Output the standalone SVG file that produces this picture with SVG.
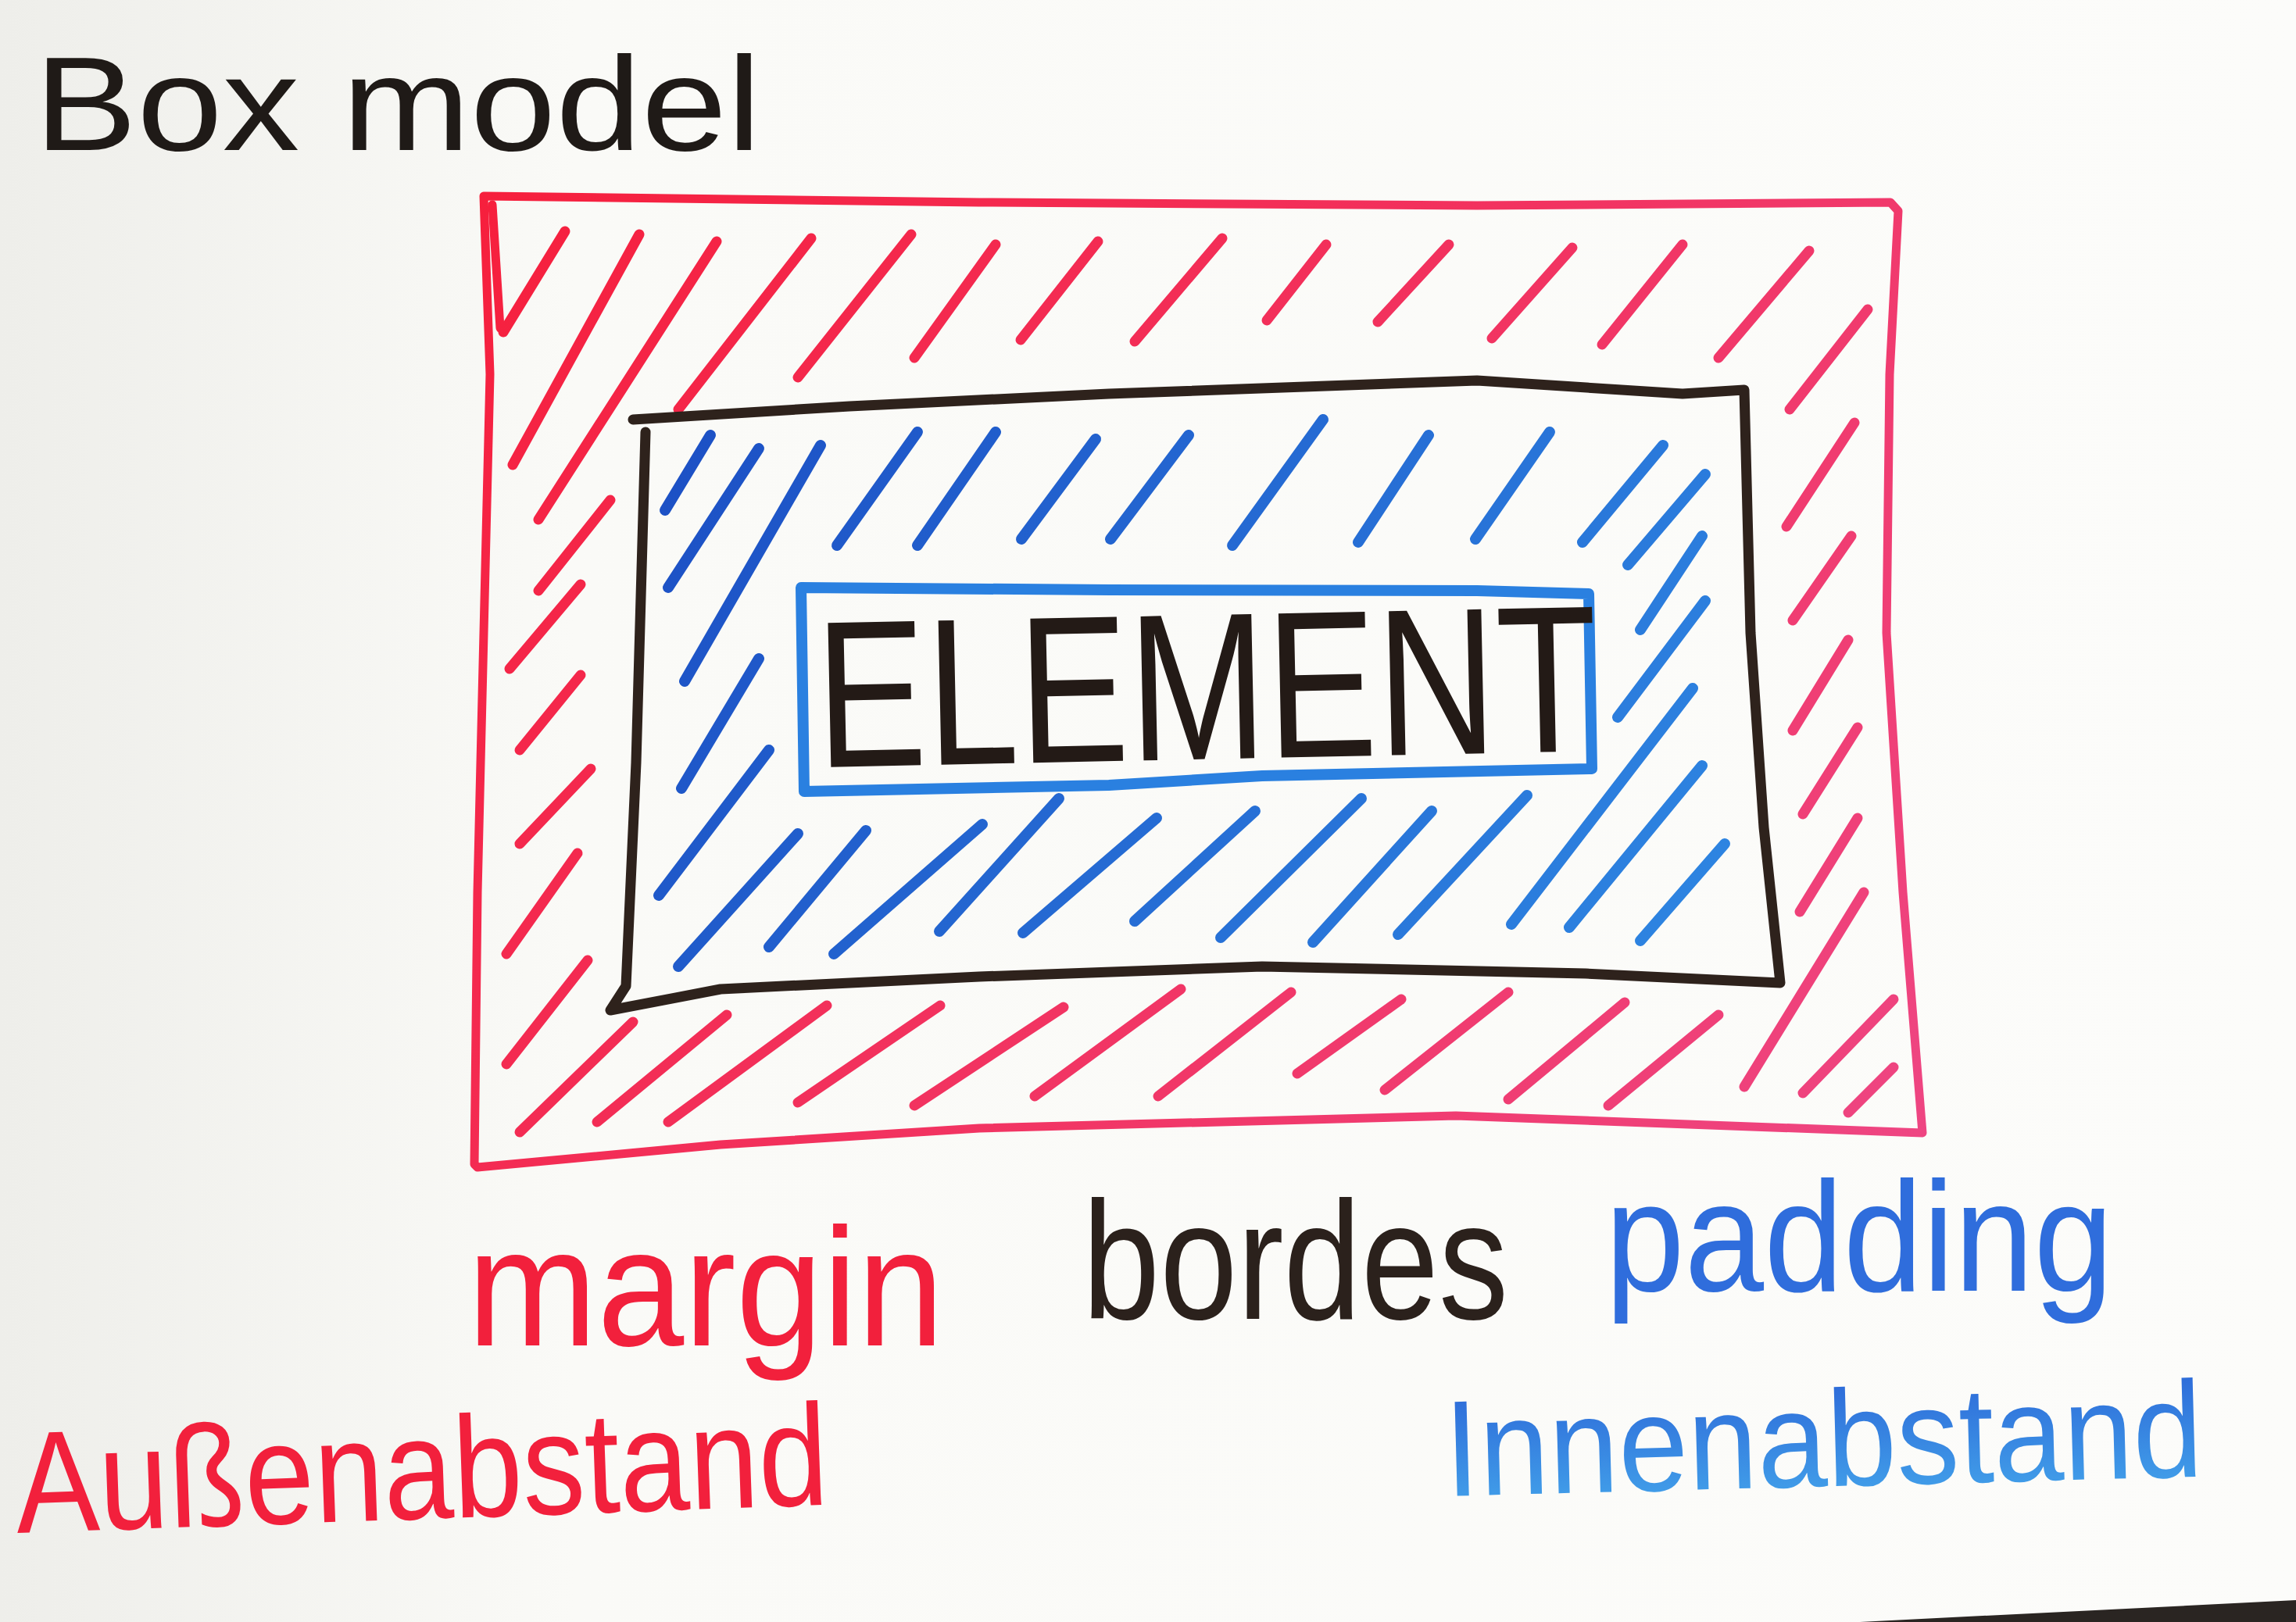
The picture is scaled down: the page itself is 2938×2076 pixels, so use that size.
<svg xmlns="http://www.w3.org/2000/svg" width="2938" height="2076" viewBox="0 0 2938 2076">
<defs>
<linearGradient id="bg" x1="0" y1="0" x2="1" y2="0">
<stop offset="0" stop-color="#eeeeea"/>
<stop offset="0.25" stop-color="#fafaf7"/>
<stop offset="1" stop-color="#fcfcfa"/>
</linearGradient>
<linearGradient id="blueText" x1="0" y1="0" x2="0" y2="1">
<stop offset="0" stop-color="#2a62d6"/>
<stop offset="1" stop-color="#45a8ec"/>
</linearGradient>
<linearGradient id="redG" gradientUnits="userSpaceOnUse" x1="600" y1="250" x2="2460" y2="1500">
<stop offset="0" stop-color="#f61f3c"/>
<stop offset="1" stop-color="#ee4683"/>
</linearGradient>
<linearGradient id="blueG" gradientUnits="userSpaceOnUse" x1="840" y1="540" x2="2200" y2="1220">
<stop offset="0" stop-color="#1c4fc4"/>
<stop offset="1" stop-color="#2e86e2"/>
</linearGradient>
</defs>
<style>
.frame{fill:none;stroke-linejoin:round;stroke-linecap:round}
.red{stroke:url(#redG);stroke-width:11}
.blk{stroke:#2e221c;stroke-width:13}
.blu{stroke:#2a80e0;stroke-width:14}
.hr{stroke:url(#redG);stroke-width:13;stroke-linecap:round;fill:none}
.hb{stroke:url(#blueG);stroke-width:14;stroke-linecap:round;fill:none}
.lbl{font-family:"Liberation Sans","DejaVu Sans",sans-serif}
</style>
<rect x="0" y="0" width="2938" height="2076" fill="url(#bg)"/>
<path d="M2380,2076 L2938,2048 L2938,2076 Z" fill="#2a2522"/>

<g id="title">
<text class="lbl" x="44" y="192" font-size="170" fill="#1f1a17" textLength="930" lengthAdjust="spacingAndGlyphs">Box model</text>
</g>

<g id="margin-box">
<path class="frame red" d="M619,251 L1253,259 L1890,263 L2419,259 L2429,270 L2418,479 L2414,810 L2435,1142 L2460,1450 L1863,1428 L1253,1444 L922,1465 L611,1494 L607,1490 L611,1142 L619,810 L627,479 L619,251"/>
<path class="frame red" d="M630,262 L640,420"/>
<g id="margin-hatch">
<path class="hr" d="M723,296 L644,425"/>
<path class="hr" d="M818,300 L656,595"/>
<path class="hr" d="M917,309 L689,665"/>
<path class="hr" d="M1038,305 L868,524"/>
<path class="hr" d="M1166,300 L1021,483"/>
<path class="hr" d="M1274,313 L1170,458"/>
<path class="hr" d="M1405,309 L1306,435"/>
<path class="hr" d="M1564,305 L1452,437"/>
<path class="hr" d="M1697,313 L1621,410"/>
<path class="hr" d="M1854,313 L1763,412"/>
<path class="hr" d="M2012,317 L1909,433"/>
<path class="hr" d="M2153,313 L2050,441"/>
<path class="hr" d="M2315,321 L2199,458"/>
<path class="hr" d="M2390,396 L2290,524"/>
<path class="hr" d="M2373,541 L2286,674"/>
<path class="hr" d="M2369,686 L2294,794"/>
<path class="hr" d="M2365,819 L2294,935"/>
<path class="hr" d="M2377,931 L2307,1042"/>
<path class="hr" d="M2377,1047 L2303,1167"/>
<path class="hr" d="M2385,1142 L2232,1391"/>
<path class="hr" d="M2423,1279 L2307,1399"/>
<path class="hr" d="M2423,1366 L2365,1424"/>
<path class="hr" d="M2199,1299 L2058,1415"/>
<path class="hr" d="M2079,1283 L1930,1407"/>
<path class="hr" d="M1930,1270 L1772,1395"/>
<path class="hr" d="M1793,1279 L1660,1374"/>
<path class="hr" d="M1652,1270 L1482,1403"/>
<path class="hr" d="M1511,1266 L1324,1403"/>
<path class="hr" d="M1361,1289 L1170,1415"/>
<path class="hr" d="M1203,1287 L1021,1411"/>
<path class="hr" d="M1058,1287 L855,1436"/>
<path class="hr" d="M930,1299 L764,1436"/>
<path class="hr" d="M810,1308 L665,1449"/>
<path class="hr" d="M781,640 L689,756"/>
<path class="hr" d="M743,748 L652,856"/>
<path class="hr" d="M743,864 L665,960"/>
<path class="hr" d="M756,984 L665,1080"/>
<path class="hr" d="M739,1092 L648,1221"/>
<path class="hr" d="M752,1229 L648,1362"/>
</g>
</g>

<g id="border-box">
<path class="frame blk" d="M826,553 L814,976 L801,1262 L781,1293 L922,1266 L1253,1250 L1615,1237 L2029,1246 L2278,1258 L2257,1059 L2240,810 L2232,499 L2153,504 L1890,487 L1419,504 L1087,520 L810,537"/>
</g>

<g id="padding-box">
<g id="padding-hatch">
<path class="hb" d="M909,557 L851,653"/>
<path class="hb" d="M971,574 L855,752"/>
<path class="hb" d="M1050,570 L876,872"/>
<path class="hb" d="M1174,553 L1071,698"/>
<path class="hb" d="M1274,553 L1174,698"/>
<path class="hb" d="M1402,562 L1307,690"/>
<path class="hb" d="M1521,557 L1421,690"/>
<path class="hb" d="M1693,537 L1577,698"/>
<path class="hb" d="M1828,557 L1738,694"/>
<path class="hb" d="M1983,553 L1888,690"/>
<path class="hb" d="M2128,570 L2025,694"/>
<path class="hb" d="M2182,607 L2083,723"/>
<path class="hb" d="M2178,686 L2099,806"/>
<path class="hb" d="M2182,769 L2070,918"/>
<path class="hb" d="M2166,881 L1934,1183"/>
<path class="hb" d="M2178,980 L2008,1187"/>
<path class="hb" d="M2207,1080 L2099,1204"/>
<path class="hb" d="M971,843 L872,1009"/>
<path class="hb" d="M984,960 L843,1146"/>
<path class="hb" d="M1021,1067 L868,1237"/>
<path class="hb" d="M1108,1063 L984,1212"/>
<path class="hb" d="M1257,1055 L1067,1221"/>
<path class="hb" d="M1355,1022 L1202,1192"/>
<path class="hb" d="M1480,1047 L1309,1194"/>
<path class="hb" d="M1606,1038 L1452,1179"/>
<path class="hb" d="M1742,1022 L1562,1200"/>
<path class="hb" d="M1832,1038 L1680,1206"/>
<path class="hb" d="M1954,1018 L1789,1196"/>
</g>
</g>

<g id="element-box">
<path class="frame blu" d="M1025,752 L1419,755 L1890,756 L2033,760 L2037,984 L1615,993 L1419,1005 L1029,1013 Z"/>
<text class="lbl" x="1046" y="982" font-size="268" fill="#231a16" textLength="1000" lengthAdjust="spacingAndGlyphs" transform="rotate(-1.2 1046 982)">ELEMENT</text>
</g>

<g id="label-margin">
<text class="lbl" x="598" y="1722" font-size="215" fill="#f2203c" textLength="610" lengthAdjust="spacingAndGlyphs">margin</text>
</g>
<g id="label-borders">
<text class="lbl" x="1385" y="1688" font-size="215" fill="#2b211c" textLength="545" lengthAdjust="spacingAndGlyphs">bordes</text>
</g>
<g id="label-padding">
<text class="lbl" x="2054" y="1652" font-size="200" fill="#2f6ddc" textLength="650" lengthAdjust="spacingAndGlyphs">padding</text>
</g>
<g id="label-aussenabstand">
<text class="lbl" x="22" y="1962" font-size="185" fill="#f2203c" textLength="1040" lengthAdjust="spacingAndGlyphs" transform="rotate(-2 22 1962)">Außenabstand</text>
</g>
<g id="label-innenabstand">
<text class="lbl" x="1850" y="1915" font-size="175" fill="url(#blueText)" textLength="970" lengthAdjust="spacingAndGlyphs" transform="rotate(-1.5 1850 1915)">Innenabstand</text>
</g>

<g id="connectors"></g>
</svg>
